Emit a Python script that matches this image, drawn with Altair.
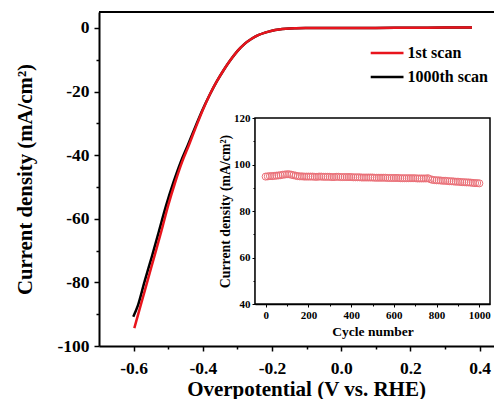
import altair as alt
import pandas as pd

# ---- main LSV curves (overpotential V vs. RHE, current density mA/cm2) ----
red_v = [-0.598, -0.58, -0.56, -0.54, -0.52, -0.50, -0.48, -0.46, -0.44, -0.42,
         -0.40, -0.38, -0.36, -0.34, -0.32, -0.30, -0.28, -0.26, -0.24, -0.22,
         -0.20, -0.18, -0.16, -0.13, -0.10, 0.0, 0.1, 0.2, 0.3, 0.378]
red_j = [-94.4, -87.4, -79.6, -71.8, -64.0, -55.8, -48.6, -42.2, -36.8, -31.2,
         -25.8, -21.0, -16.9, -13.3, -10.1, -7.3, -5.1, -3.5, -2.3, -1.5,
         -0.9, -0.5, -0.25, -0.1, -0.05, 0.0, 0.0, 0.05, 0.1, 0.15]
black_v = [-0.601, -0.588, -0.568, -0.547, -0.527, -0.506, -0.485, -0.464, -0.443, -0.422,
           -0.401, -0.38, -0.36, -0.34, -0.32, -0.30, -0.28, -0.26, -0.24, -0.22,
           -0.20, -0.18, -0.16, -0.13, -0.10, 0.0, 0.1, 0.2, 0.3, 0.378]
black_j = [-90.8, -87.4, -79.6, -71.8, -64.0, -55.8, -48.6, -42.2, -36.8, -31.2,
           -25.8, -21.0, -16.9, -13.3, -10.1, -7.3, -5.1, -3.5, -2.3, -1.5,
           -0.9, -0.5, -0.25, -0.1, -0.05, 0.0, 0.0, 0.05, 0.1, 0.15]
scan_names = ["1st scan", "1000th scan"]
scan_colors = ["#e8141c", "#000000"]

x_tick_values = [-0.6, -0.5, -0.4, -0.3, -0.2, -0.1, 0.0, 0.1, 0.2, 0.3, 0.4]
y_tick_values = [-100, -90, -80, -70, -60, -50, -40, -30, -20, -10, 0]

# ---- inset: current density over 1000 cycles ----
cycles = list(range(0, 1001, 10))
inset_j = [94.8, 94.9, 95.0, 95.0, 95.1, 95.2, 95.3, 95.4, 95.6, 95.7,
           95.8, 95.8, 95.6, 95.4, 95.2, 95.0, 94.9, 94.9, 94.8, 94.8,
           94.8, 94.8, 94.8, 94.7, 94.7, 94.8, 94.8, 94.7, 94.7, 94.7,
           94.7, 94.6, 94.6, 94.7, 94.7, 94.6, 94.6, 94.6, 94.6, 94.6,
           94.6, 94.5, 94.5, 94.5, 94.5, 94.4, 94.4, 94.4, 94.4, 94.4,
           94.4, 94.3, 94.3, 94.3, 94.3, 94.3, 94.3, 94.2, 94.2, 94.2,
           94.2, 94.2, 94.2, 94.1, 94.1, 94.1, 94.1, 94.1, 94.1, 94.1,
           94.1, 94.0, 94.0, 94.0, 94.0, 94.0, 94.1, 93.7, 93.4, 93.3,
           93.2, 93.2, 93.1, 93.0, 93.0, 92.9, 92.8, 92.8, 92.7, 92.6,
           92.6, 92.5, 92.4, 92.4, 92.3, 92.3, 92.2, 92.1, 92.0, 92.0,
           91.9]
inset_x_ticks = list(range(0, 1001, 100))
inset_y_ticks = list(range(40, 121, 10))

FONT = "Liberation Serif"
W, H = 395, 334          # visible plot box (svg is clipped at the right edge)
XR = 403                 # full width of the main x range (runs past the clip)
INSET_L, INSET_R = 156, 391
INSET_T, INSET_B = 106, 292

rows = []
for i, (v, j) in enumerate(zip(black_v, black_j)):
    rows.append({"v": v, "j": j, "scan": scan_names[1], "idx": i})
for i, (v, j) in enumerate(zip(red_v, red_j)):
    rows.append({"v": v, "j": j, "scan": scan_names[0], "idx": i})
main_df = pd.DataFrame(rows)
inset_df = pd.DataFrame({"cycle": cycles, "j": inset_j})

x_end = -0.7 + XR / 346.0
main_x_scale = alt.Scale(domain=[-0.7, x_end], range=[0, XR], nice=False, zero=False)
main_y_scale = alt.Scale(domain=[-100, 5], nice=False, zero=False)
inset_x_scale = alt.Scale(domain=[-50, 1050], range=[INSET_L, INSET_R], nice=False, zero=False)
inset_y_scale = alt.Scale(domain=[40, 120], range=[INSET_B, INSET_T], nice=False, zero=False)

common_axis = dict(
    grid=False, domainColor="black", tickColor="black", labelColor="black",
    titleColor="black", labelFont=FONT, titleFont=FONT,
    labelFontWeight="bold", titleFontWeight="bold",
)

main_x_axis = alt.Axis(
    values=x_tick_values, format=".1f", orient="bottom",
    labelExpr="abs(round(datum.value*10)) % 2 === 1 ? '' : replace(datum.label, '\u2212', '-')",
    tickSize={"condition": {"test": "abs(round(datum.value*10)) % 2 === 1", "value": 3}, "value": 5},
    domainWidth=2, tickWidth=1.5, labelFontSize=17.5, titleFontSize=21,
    labelPadding=8, titleX=207, titleY=32, titleBaseline="top",
    title="Overpotential (V vs. RHE)", **common_axis)
main_y_axis = alt.Axis(
    values=y_tick_values, orient="left",
    labelExpr="datum.value % 20 !== 0 ? '' : replace(datum.label, '\u2212', '-')",
    tickSize={"condition": {"test": "datum.value % 20 !== 0", "value": 3}, "value": 5},
    domainWidth=2, tickWidth=1.5, labelFontSize=17.5, titleFontSize=20.8,
    labelPadding=5, titleX=-64, titleBaseline="bottom",
    title="Current density (mA/cm\u00b2)", **common_axis)

lines = alt.Chart(main_df).mark_line(strokeWidth=2.5, interpolate="monotone").encode(
    x=alt.X("v:Q", scale=main_x_scale, axis=main_x_axis),
    y=alt.Y("j:Q", scale=main_y_scale, axis=main_y_axis),
    color=alt.Color("scan:N", scale=alt.Scale(domain=scan_names, range=scan_colors),
                    legend=alt.Legend(orient="none", legendX=271, legendY=31.5, title=None,
                                      symbolType="M-1.1,0H3", symbolSize=256,
                                      symbolStrokeWidth=2.5, labelFont=FONT,
                                      labelFontSize=16, labelFontWeight="bold",
                                      labelColor="black", labelOffset=18.5, rowPadding=6)),
    order="idx:Q",
)

top_border = alt.Chart(pd.DataFrame({"k": [0]})).mark_rule(color="black", strokeWidth=2).encode(
    x=alt.X(datum=-0.7, scale=main_x_scale, axis=None),
    x2=alt.X2(datum=x_end),
    y=alt.Y(datum=5, scale=main_y_scale, axis=None),
)

inset_frame = alt.Chart(pd.DataFrame({"k": [0]})).mark_rect(
    fill="white", stroke="black", strokeWidth=1.5).encode(
    x=alt.X(datum=-50, scale=inset_x_scale, axis=None),
    x2=alt.X2(datum=1050),
    y=alt.Y(datum=40, scale=inset_y_scale, axis=None),
    y2=alt.Y2(datum=120),
)

inset_x_axis = alt.Axis(
    values=inset_x_ticks, orient="bottom", offset=INSET_B - H, format="d",
    labelExpr="datum.value % 200 !== 0 ? '' : datum.label",
    tickSize={"condition": {"test": "datum.value % 200 !== 0", "value": 2}, "value": 3},
    domainWidth=1.5, tickWidth=1, labelFontSize=11, titleFontSize=13.5,
    labelPadding=2, titlePadding=4, title="Cycle number", **common_axis)
inset_y_axis = alt.Axis(
    values=inset_y_ticks, orient="left", offset=-INSET_L, format="d",
    labelExpr="datum.value % 20 !== 0 ? '' : datum.label",
    tickSize={"condition": {"test": "datum.value % 20 !== 0", "value": 2}, "value": 3},
    domainWidth=1.5, tickWidth=1, labelFontSize=11, titleFontSize=13.8,
    labelPadding=2, titlePadding=1, title="Current density (mA/cm\u00b2)", **common_axis)

inset_points = alt.Chart(inset_df).mark_point(
    shape="circle", filled=False, stroke="#ea6f77",
    strokeWidth=1, size=50, opacity=1).encode(
    x=alt.X("cycle:Q", scale=inset_x_scale, axis=inset_x_axis),
    y=alt.Y("j:Q", scale=inset_y_scale, axis=inset_y_axis),
)

chart = alt.layer(lines, top_border, inset_frame, inset_points).resolve_scale(
    x="independent", y="independent"
).resolve_axis(
    x="independent", y="independent"
).properties(
    width=W, height=H,
    padding={"left": 91, "top": 4, "right": 0, "bottom": 53},
    autosize=alt.AutoSizeParams(type="none"),
    background="white",
).configure_view(stroke=None)

chart.save("out.html", embed_options={"renderer": "svg", "actions": False})
